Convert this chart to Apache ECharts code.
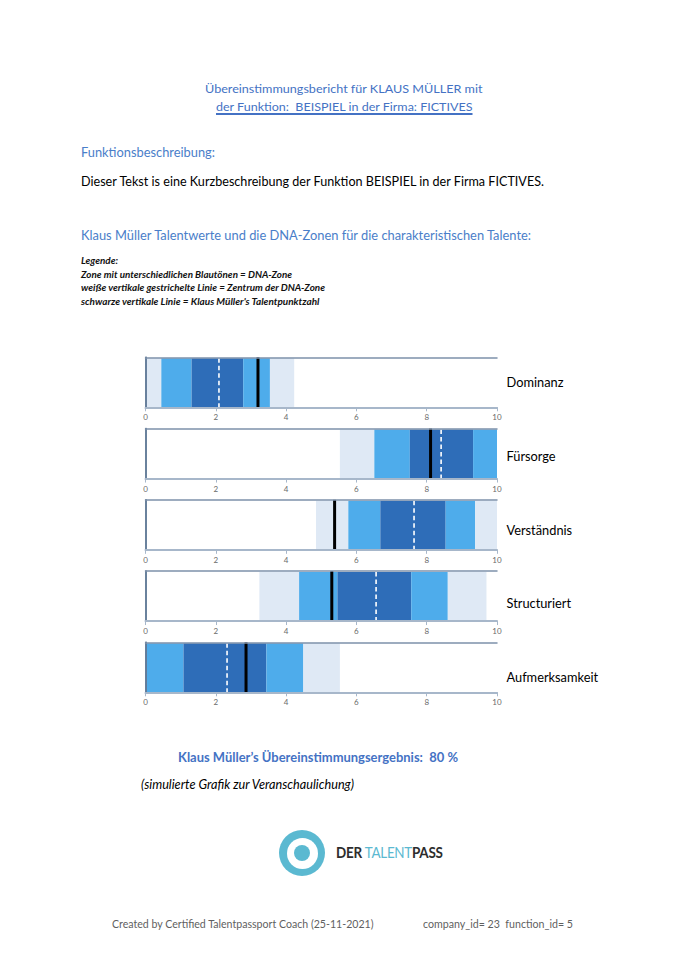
<!DOCTYPE html>
<html>
<head>
<meta charset="utf-8">
<script src="https://cdn.jsdelivr.net/npm/echarts@6/dist/echarts.min.js"></script>
<style>
  html, body { margin: 0; padding: 0; background: #fff; }
  #page { position: relative; width: 686px; height: 971px; overflow: hidden; background: #fff; }
  #chart { position: absolute; left: 0; top: 0; width: 686px; height: 971px; }
  .t { position: absolute; white-space: pre; font-family: Lato, "Open Sans", sans-serif; line-height: 1.2; transform-origin: 0 50%; display: inline-block; }
  .blue { color: #4472c4; }
  .hblue { color: #4a7ec9; }
  .legend { font-weight: bold; font-style: italic; font-size: 8.8px; color: #111; }
  #logo { position: absolute; left: 279px; top: 830px; width: 46px; height: 46px; border-radius: 50%; background: #5bb9d1; }
  #logo .ring { position: absolute; left: 7.5px; top: 7.5px; width: 31px; height: 31px; border-radius: 50%; background: #fff; }
  #logo .dot { position: absolute; left: 15px; top: 15px; width: 16px; height: 16px; border-radius: 50%; background: #5bb9d1; }
</style>
</head>
<body>
<div id="page">
  <div id="chart"></div>

  <div class="t blue" style="left:204.5px; top:81.5px; font-size:12px;" data-w="277.5">Übereinstimmungsbericht für KLAUS MÜLLER mit</div>
  <div class="t blue" style="left:216.4px; top:99.5px; font-size:12px; text-decoration:underline; text-decoration-thickness:1.5px; text-underline-offset:2px;" data-w="256.5">der Funktion:  BEISPIEL in der Firma: FICTIVES</div>

  <div class="t hblue" style="left:81px; top:145px; font-size:13px;" data-w="134">Funktionsbeschreibung:</div>
  <div class="t" style="left:81px; top:173.8px; font-size:13px; color:#000;" data-w="463">Dieser Tekst is eine Kurzbeschreibung der Funktion BEISPIEL in der Firma FICTIVES.</div>

  <div class="t hblue" style="left:81px; top:228px; font-size:13px;" data-w="450">Klaus Müller Talentwerte und die DNA-Zonen für die charakteristischen Talente:</div>

  <div class="t legend" style="left:81px; top:256px;" data-w="37">Legende:</div>
  <div class="t legend" style="left:81px; top:269.5px;" data-w="211">Zone mit unterschiedlichen Blautönen = DNA-Zone</div>
  <div class="t legend" style="left:81px; top:283px;" data-w="244">weiße vertikale gestrichelte Linie = Zentrum der DNA-Zone</div>
  <div class="t legend" style="left:81px; top:296.5px;" data-w="238.5">schwarze vertikale Linie = Klaus Müller's Talentpunktzahl</div>

  <div class="t blue" style="left:178px; top:750px; font-size:12.5px; font-weight:bold;" data-w="280">Klaus Müller’s Übereinstimmungsergebnis:  80 %</div>
  <div class="t" style="left:141px; top:777px; font-size:12.5px; font-style:italic; color:#000;" data-w="213">(simulierte Grafik zur Veranschaulichung)</div>

  <div id="logo"><div class="ring"></div><div class="dot"></div></div>
  <div class="t" style="left:335.7px; top:844px; font-size:14.5px; font-weight:bold; color:#2d2d2d; letter-spacing:-0.3px;" data-w="106.6">DER <span style="color:#5bb9d1; font-weight:normal;">TALENT</span>PASS</div>

  <div class="t" style="left:111.7px; top:917px; font-size:11.5px; color:#5f5f5f;" data-w="261.6">Created by Certified Talentpassport Coach (25-11-2021)</div>
  <div class="t" style="left:423.3px; top:917px; font-size:11.5px; color:#5f5f5f;" data-w="150">company_id= 23  function_id= 5</div>
</div>

<script>
// ---- data ----
const talents = ['Dominanz', 'Fürsorge', 'Verständnis', 'Structuriert', 'Aufmerksamkeit'];
// zone boundaries: light | medium | dark | medium | light
const zoneBoundsDominanz      = [0, 0.45, 1.31, 2.78, 3.54, 4.23];
const zoneBoundsFuersorge     = [5.53, 6.51, 7.52, 9.32, 10, 10];
const zoneBoundsVerstaendnis  = [4.85, 5.77, 6.68, 8.54, 9.38, 10];
const zoneBoundsStructuriert  = [3.24, 4.37, 5.46, 7.56, 8.60, 9.70];
const zoneBoundsAufmerksamkeit= [0, 0, 1.08, 3.44, 4.49, 5.53];
const zoneCenters  = [2.09, 8.41, 7.64, 6.56, 2.32];
const talentScores = [3.20, 8.11, 5.38, 5.30, 2.86];
const xTicks = [0, 2, 4, 6, 8, 10];

const zoneBounds = [zoneBoundsDominanz, zoneBoundsFuersorge, zoneBoundsVerstaendnis, zoneBoundsStructuriert, zoneBoundsAufmerksamkeit];
const zoneLevels = [0, 1, 2, 1, 0];
const zoneColors = ['#dfe9f5', '#4eaceb', '#2e6db8'];
// layout: vertical shift of each talent name relative to panel centre (px)
const labelShift = [0, 2.5, 5, 7.2, 9.7];

const chart = echarts.init(document.getElementById('chart'), null, { renderer: 'svg' });

const grids = [], xAxes = [], yAxes = [], series = [];
talents.forEach((name, i) => {
  grids.push({ left: 145.5, width: 351.5, top: 357.3 + i * 71.25, height: 50, show: false, containLabel: false });
  // bottom axis (with labels)
  xAxes.push({
    gridIndex: i, type: 'value', min: xTicks[0], max: xTicks[xTicks.length - 1], interval: 2, position: 'bottom', z: 10,
    axisLine: { show: true, onZero: false, lineStyle: { color: '#a7b7ca', width: 2 } },
    axisTick: { show: true, length: 4, lineStyle: { color: '#a7b7ca', width: 1 } },
    axisLabel: { show: true, fontSize: 8, color: '#6a6a6a', margin: 6, fontFamily: 'Lato, sans-serif' },
    splitLine: { show: false }
  });
  // top border axis
  xAxes.push({
    gridIndex: i, type: 'value', min: 0, max: 10, interval: 2, position: 'top', z: 10,
    axisLine: { show: true, onZero: false, lineStyle: { color: '#7e91aa', width: 1.5 } },
    axisTick: { show: false }, axisLabel: { show: false }, splitLine: { show: false }
  });
  // left border
  yAxes.push({
    gridIndex: i, type: 'category', data: [name], position: 'left', z: 10,
    axisLine: { show: true, lineStyle: { color: '#a7b7ca', width: 1.5 } },
    axisTick: { show: false }, axisLabel: { show: false }, splitLine: { show: false }
  });
  // right border with talent name
  yAxes.push({
    gridIndex: i, type: 'category', data: [name], position: 'right', z: 10,
    axisLine: { show: true, lineStyle: { color: '#4f6a8a', width: 1.5 } },
    axisTick: { show: false },
    axisLabel: {
      show: true, margin: 9.5,
      formatter: v => '{n|' + v + '}',
      rich: { n: { color: '#000', fontSize: 12.8, fontFamily: 'Lato, sans-serif', padding: [labelShift[i] * 2, 0, 0, 0] } }
    },
    splitLine: { show: false }
  });

  const b = zoneBounds[i];
  const zoneData = zoneLevels.map((lvl, k) => [b[k], b[k + 1], lvl, 0]).filter(d => d[1] > d[0]);
  series.push({
    type: 'custom', xAxisIndex: 2 * i, yAxisIndex: 2 * i, z: 2, silent: true,
    encode: { x: [0, 1], y: 3 },
    data: zoneData,
    renderItem: (params, api) => {
      const p0 = api.coord([api.value(0), 0]);
      const p1 = api.coord([api.value(1), 0]);
      const h = api.size([0, 1])[1];
      return {
        type: 'rect',
        shape: { x: p0[0], y: p0[1] - h / 2 + 1, width: p1[0] - p0[0], height: h - 1 },
        style: { fill: zoneColors[api.value(2)] }
      };
    }
  });
  // center (white dashed) line
  series.push({
    type: 'custom', xAxisIndex: 2 * i, yAxisIndex: 2 * i, z: 4, silent: true,
    encode: { x: 0, y: 1 },
    data: [[zoneCenters[i], 0]],
    renderItem: (params, api) => {
      const p = api.coord([api.value(0), 0]);
      const h = api.size([0, 1])[1];
      return {
        type: 'line',
        shape: { x1: p[0], y1: p[1] - h / 2 + 1, x2: p[0], y2: p[1] + h / 2 },
        style: { stroke: '#ffffff', lineWidth: 1.6, lineDash: [4.5, 3] }
      };
    }
  });
  // talent score (black) line
  series.push({
    type: 'custom', xAxisIndex: 2 * i, yAxisIndex: 2 * i, z: 5, silent: true,
    encode: { x: 0, y: 1 },
    data: [[talentScores[i], 0]],
    renderItem: (params, api) => {
      const p = api.coord([api.value(0), 0]);
      const h = api.size([0, 1])[1];
      return {
        type: 'line',
        shape: { x1: p[0], y1: p[1] - h / 2, x2: p[0], y2: p[1] + h / 2 },
        style: { stroke: '#000000', lineWidth: 3 }
      };
    }
  });
});

chart.setOption({
  animation: false,
  grid: grids,
  xAxis: xAxes,
  yAxis: yAxes,
  series: series
});

function fitTexts() {
  document.querySelectorAll('[data-w]').forEach(el => {
    el.style.transform = 'none';
    const w = el.getBoundingClientRect().width;
    const target = parseFloat(el.getAttribute('data-w'));
    if (w > 0) el.style.transform = 'scaleX(' + (target / w) + ')';
  });
}
fitTexts();
if (document.fonts && document.fonts.ready) document.fonts.ready.then(fitTexts);
</script>
</body>
</html>
